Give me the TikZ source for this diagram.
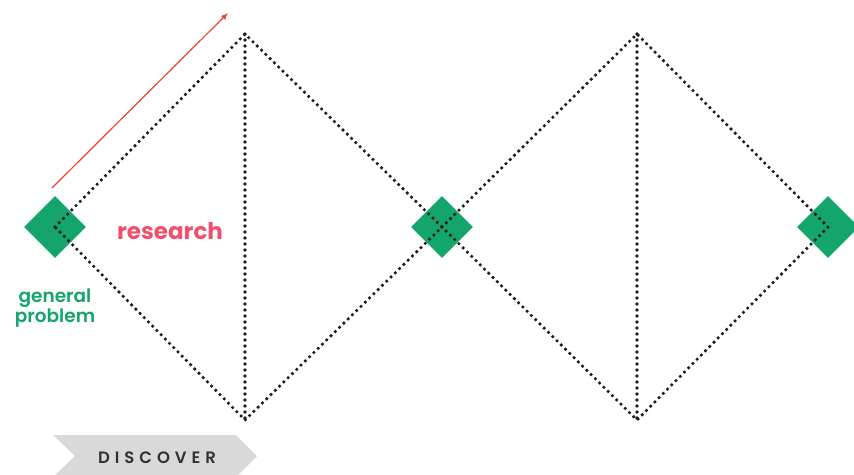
\documentclass[tikz,border=0pt]{standalone}
\usepackage{fontspec}
\setmainfont{Poppins}
\newfontfamily\tagfont[LetterSpace=30]{Poppins SemiBold}
\newfontfamily\semifont{Poppins SemiBold}
\usepackage{xcolor}
\usetikzlibrary{arrows.meta,shapes.geometric}
\definecolor{dotBlack}{HTML}{1C1C1C}
\definecolor{probGreen}{HTML}{13A56B}
\definecolor{researchRed}{HTML}{F0506C}
\definecolor{arrowRed}{HTML}{EC4438}
\definecolor{tagGray}{HTML}{D9D9D9}
\definecolor{tagInk}{HTML}{2E3338}

\begin{document}
\begin{tikzpicture}[
    x=1pt,y=-1pt,
    >=Latex,
    dotline/.style={dotBlack,line width=3.6pt,line cap=round,dash pattern=on 0pt off 6pt},
    gem/.style={diamond,fill=probGreen,minimum width=62pt,minimum height=62pt,inner sep=0pt},
    phase/.style={tagGray}
  ]
  \useasboundingbox (0,0) rectangle (854,474);
  \clip (0,0) rectangle (854,474);
  %% Green squares on the three joints
  \node[gem] (start) at (55,227) {};
  \node[gem] (middle) at (442,227) {};
  \node[gem] (finish) at (828,227) {};
  %% Corners of the two diamonds
  \coordinate (top1) at (245,34);
  \coordinate (bot1) at (245,420);
  \coordinate (top2) at (637,34);
  \coordinate (bot2) at (637,420);
  \draw[dotline] (start.center) -- (top1) -- (middle.center) -- (bot1) -- cycle;
  \draw[dotline] (top1) -- (bot1);
  \draw[dotline] (middle.center) -- (top2) -- (finish.center) -- (bot2) -- cycle;
  \draw[dotline] (top2) -- (bot2);
  %% Research arrow
  \coordinate (arrowTail) at (52,188);
  \coordinate (arrowHead) at (228,13);
  \draw[arrowRed,line width=1.2pt,-{Latex[length=7pt,width=6pt]}] (arrowTail) -- (arrowHead);
  \node[researchRed,font=\bfseries\fontsize{23}{25}\selectfont] (research) at (170,231) {research};
  \node[probGreen,align=center,font=\semifont\fontsize{18.5}{19.5}\selectfont] (problem) at (55,308) {general\\problem};
  %% Phase tag
  \fill[phase] (53,435) -- (236,435) -- (257,456) -- (236,477) -- (53,477) -- (75,456) -- cycle;
  \node[tagInk,font=\tagfont\fontsize{16.5}{18}\selectfont] (discover) at (157,458) {DISCOVER};
\end{tikzpicture}
\end{document}
